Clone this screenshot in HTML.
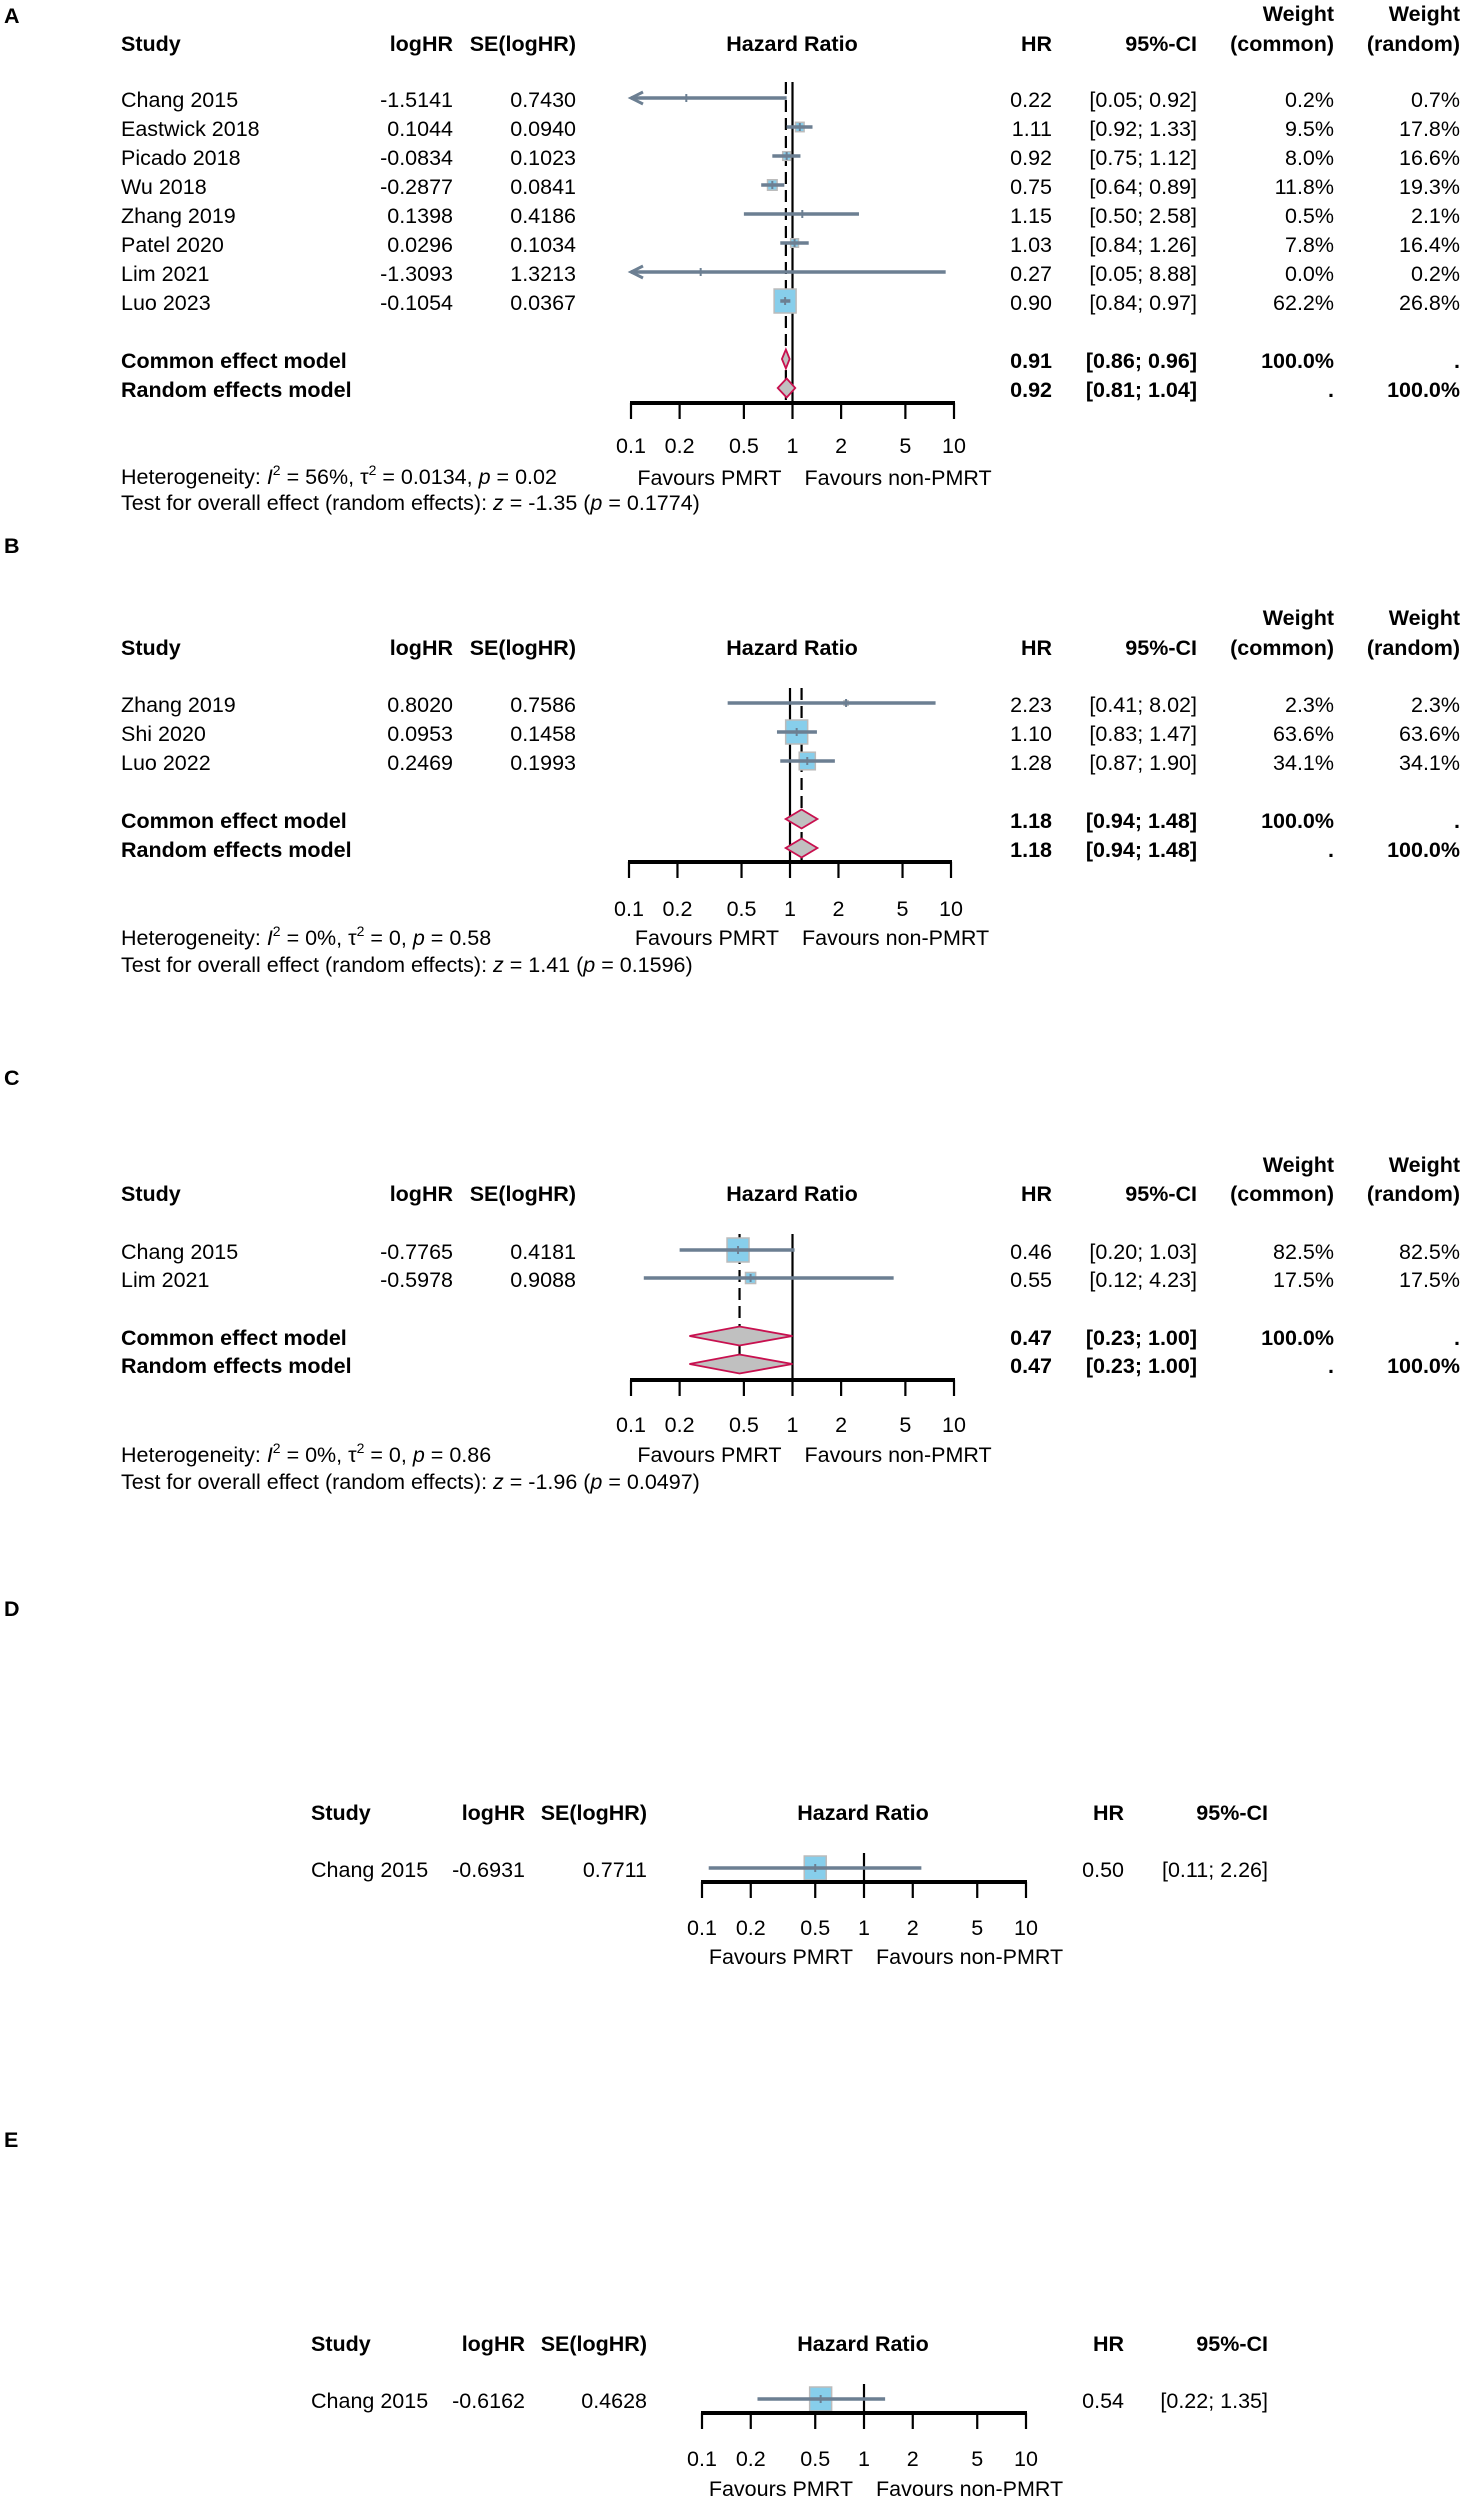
<!DOCTYPE html>
<html><head><meta charset="utf-8"><title>Forest plots</title>
<style>
html,body{margin:0;padding:0;background:#fff;}
svg{display:block;font-family:"Liberation Sans",Arial,sans-serif;}
text{font-size:21.5px;fill:#000;}
.b{font-weight:bold;}
</style></head>
<body>
<svg id="chart" xmlns="http://www.w3.org/2000/svg" width="1465" height="2500" viewBox="0 0 1465 2500">
<rect x="0" y="0" width="1465" height="2500" fill="#fff"/>
</svg>
<script>
// ---------- Panel A data ----------
const studiesA = ["Chang 2015","Eastwick 2018","Picado 2018","Wu 2018","Zhang 2019","Patel 2020","Lim 2021","Luo 2023"];
const logHRA = ["-1.5141","0.1044","-0.0834","-0.2877","0.1398","0.0296","-1.3093","-0.1054"];
const seA = ["0.7430","0.0940","0.1023","0.0841","0.4186","0.1034","1.3213","0.0367"];
const hrA = [0.22,1.11,0.92,0.75,1.15,1.03,0.27,0.90];
const loA = [0.05,0.92,0.75,0.64,0.50,0.84,0.05,0.84];
const hiA = [0.92,1.33,1.12,0.89,2.58,1.26,8.88,0.97];
const wcA = [0.2,9.5,8.0,11.8,0.5,7.8,0.0,62.2];
const wrA = [0.7,17.8,16.6,19.3,2.1,16.4,0.2,26.8];
const modelHRA = [0.91,0.92];
const modelLoA = [0.86,0.81];
const modelHiA = [0.96,1.04];
const hetA = ["56%","0.0134","0.02"];
const testA = ["-1.35","0.1774"];
// ---------- Panel B data ----------
const studiesB = ["Zhang 2019","Shi 2020","Luo 2022"];
const logHRB = ["0.8020","0.0953","0.2469"];
const seB = ["0.7586","0.1458","0.1993"];
const hrB = [2.23,1.10,1.28];
const loB = [0.41,0.83,0.87];
const hiB = [8.02,1.47,1.90];
const wcB = [2.3,63.6,34.1];
const wrB = [2.3,63.6,34.1];
const modelHRB = [1.18,1.18];
const modelLoB = [0.94,0.94];
const modelHiB = [1.48,1.48];
const hetB = ["0%","0","0.58"];
const testB = ["1.41","0.1596"];
// ---------- Panel C data ----------
const studiesC = ["Chang 2015","Lim 2021"];
const logHRC = ["-0.7765","-0.5978"];
const seC = ["0.4181","0.9088"];
const hrC = [0.46,0.55];
const loC = [0.20,0.12];
const hiC = [1.03,4.23];
const wcC = [82.5,17.5];
const wrC = [82.5,17.5];
const modelHRC = [0.47,0.47];
const modelLoC = [0.23,0.23];
const modelHiC = [1.00,1.00];
const hetC = ["0%","0","0.86"];
const testC = ["-1.96","0.0497"];
// ---------- Panel D data ----------
const studiesD = ["Chang 2015"];
const logHRD = ["-0.6931"];
const seD = ["0.7711"];
const hrD = [0.50];
const loD = [0.11];
const hiD = [2.26];
const wcD = [100];
// ---------- Panel E data ----------
const studiesE = ["Chang 2015"];
const logHRE = ["-0.6162"];
const seE = ["0.4628"];
const hrE = [0.54];
const loE = [0.22];
const hiE = [1.35];
const wcE = [100];
// ---------- axis ticks ----------
const tickValues = [0.1,0.2,0.5,1,2,5,10];
const tickLabels = ["0.1","0.2","0.5","1","2","5","10"];

const NS = "http://www.w3.org/2000/svg";
const svg = document.getElementById("chart");
const CI_COL = "#6c7f92";

function mk(tag, attrs, parent){
  const e = document.createElementNS(NS, tag);
  for (const k in attrs) e.setAttribute(k, attrs[k]);
  (parent||svg).appendChild(e);
  return e;
}
function txt(parent, x, yc, s, anchor, bold){
  const t = document.createElementNS(NS, "text");
  t.setAttribute("x", x);
  t.setAttribute("y", yc + 7.8);
  t.setAttribute("text-anchor", anchor||"start");
  if (bold) t.setAttribute("class","b");
  t.textContent = s;
  parent.appendChild(t);
  return t;
}
function fmt(v){ return v.toFixed(2); }
function ci(l,h){ return "[" + fmt(l) + "; " + fmt(h) + "]"; }

function drawPanel(P){
  const g = mk("g", {});
  
  
  const xs = v => P.ax0 + (Math.log10(v) + 1) / 2 * (P.ax1 - P.ax0);
  const c = P.cols;
  // panel label
  const lab = txt(g, 4, P.labelY, P.label, "start", true);
  
  
  // headers
  const hg = mk("g", {}, g);
  
  
  txt(hg, c.study, P.headY, "Study", "start", true);
  txt(hg, c.logHR, P.headY, "logHR", "end", true);
  txt(hg, c.se, P.headY, "SE(logHR)", "end", true);
  txt(hg, c.hz, P.headY, "Hazard Ratio", "middle", true);
  txt(hg, c.hr, P.headY, "HR", "end", true);
  txt(hg, c.ci, P.headY, "95%-CI", "end", true);
  if (P.wc){
    txt(hg, c.wc, P.w1Y, "Weight", "end", true);
    txt(hg, c.wc, P.headY, "(common)", "end", true);
    txt(hg, c.wr, P.w1Y, "Weight", "end", true);
    txt(hg, c.wr, P.headY, "(random)", "end", true);
  }
  // reference line at 1
  const ref = mk("line", {x1:xs(1), x2:xs(1), y1:P.refTop, y2:P.axisY, stroke:"#000", "stroke-width":2.2}, g);
  
  
  if (P.mHR){
    const dl = mk("line", {x1:xs(P.mHR[0]), x2:xs(P.mHR[0]), y1:P.refTop, y2:P.axisY, stroke:"#000", "stroke-width":2.2, "stroke-dasharray":"12,6"}, g);
    
    
  }
  const wmax = Math.max.apply(null, P.wsq);
  for (let i=0;i<P.studies.length;i++){
    const y = P.row0 + i*P.step;
    const rg = mk("g", {}, g);
    
    
    txt(rg, c.study, y, P.studies[i]);
    txt(rg, c.logHR, y, P.logHR[i], "end");
    txt(rg, c.se, y, P.se[i], "end");
    txt(rg, c.hr, y, fmt(P.hr[i]), "end");
    txt(rg, c.ci, y, ci(P.lo[i], P.hi[i]), "end");
    if (P.wc){
      txt(rg, c.wc, y, P.wc[i].toFixed(1) + "%", "end");
      txt(rg, c.wr, y, P.wr[i].toFixed(1) + "%", "end");
    }
    const yl = y - 1;
    const sz = Math.sqrt(P.wsq[i] / wmax);
    const sw = 22*sz, sh = 24*sz;
    const cx = xs(P.hr[i]);
    if (sw > 2){
      const sq = mk("rect", {x:cx-sw/2, y:yl-sh/2, width:sw, height:sh, fill:"#87ceeb", stroke:"#bbbbbb", "stroke-width":1.5}, rg);
      
      
    }
    const lo = Math.max(P.lo[i], 0.1), hi = Math.min(P.hi[i], 10);
    const ln = mk("line", {x1:xs(lo), x2:xs(hi), y1:yl, y2:yl, stroke:CI_COL, "stroke-width":3.5}, rg);
    
    
    if (P.lo[i] < 0.1){
      const ax = xs(0.1);
      const ar = mk("polyline", {points:(ax+12)+","+(yl-6)+" "+ax+","+yl+" "+(ax+12)+","+(yl+6), fill:"none", stroke:CI_COL, "stroke-width":3}, rg);
      
      
    }
    const tk = mk("line", {x1:cx, x2:cx, y1:yl-4, y2:yl+4, stroke:CI_COL, "stroke-width":2}, rg);
    
    
  }
  if (P.mHR){
    const names = ["Common effect model","Random effects model"];
    const ys = [P.commonY, P.randomY];
    const wcs = ["100.0%","."], wrs = [".","100.0%"];
    for (let k=0;k<2;k++){
      const y = ys[k];
      const mg = mk("g", {}, g);
      
      
      txt(mg, c.study, y, names[k], "start", true);
      txt(mg, c.hr, y, fmt(P.mHR[k]), "end", true);
      txt(mg, c.ci, y, ci(P.mLo[k], P.mHi[k]), "end", true);
      txt(mg, c.wc, y, wcs[k], "end", true);
      txt(mg, c.wr, y, wrs[k], "end", true);
      const yd = y - 1;
      const a = xs(P.mLo[k]), b = xs(P.mHi[k]), m = xs(P.mHR[k]);
      const dm = mk("polygon", {points:a+","+yd+" "+m+","+(yd-9.5)+" "+b+","+yd+" "+m+","+(yd+9.5), fill:"#c0c0c0", stroke:"#c8104f", "stroke-width":1.8}, mg);
      
      
    }
  }
  // axis
  const ag = mk("g", {}, g);
  
  
  mk("line", {x1:P.ax0-1, x2:P.ax1+1, y1:P.axisY, y2:P.axisY, stroke:"#000", "stroke-width":4}, ag);
  for (let i=0;i<tickValues.length;i++){
    const x = xs(tickValues[i]);
    mk("line", {x1:x, x2:x, y1:P.axisY, y2:P.axisY+16, stroke:"#000", "stroke-width":2.2}, ag);
    const tl = txt(ag, x, P.tickY, tickLabels[i], "middle");
    
    
  }
  const f1 = txt(ag, xs(1)-11, P.favY, "Favours PMRT", "end");
  
  
  const f2 = txt(ag, xs(1)+12, P.favY, "Favours non-PMRT", "start");
  
  
  if (P.het){
    const h = document.createElementNS(NS, "text");
    h.setAttribute("x", c.study); h.setAttribute("y", P.hetY + 7.8);
    
    
    h.innerHTML = 'Heterogeneity: <tspan font-style="italic">I</tspan><tspan dy="-9" font-size="14">2</tspan><tspan dy="9"> = ' + P.het[0] + ', τ</tspan><tspan dy="-9" font-size="14">2</tspan><tspan dy="9"> = ' + P.het[1] + ', </tspan><tspan font-style="italic">p</tspan><tspan> = ' + P.het[2] + '</tspan>';
    g.appendChild(h);
    const t = document.createElementNS(NS, "text");
    t.setAttribute("x", c.study); t.setAttribute("y", P.testY + 7.8);
    
    
    t.innerHTML = 'Test for overall effect (random effects): <tspan font-style="italic">z</tspan> = ' + P.test[0] + ' (<tspan font-style="italic">p</tspan> = ' + P.test[1] + ')';
    g.appendChild(t);
  }
}

const colsABC = {study:121, logHR:453, se:576, hz:792, hr:1052, ci:1197, wc:1334, wr:1460};
const colsDE = {study:311, logHR:525, se:647, hz:863, hr:1124, ci:1268};

drawPanel({name:"panel-a", label:"A", labelY:15, w1Y:13, headY:43, row0:99, step:29, commonY:360, randomY:389,
  axisY:403, tickY:445, favY:477, hetY:476, testY:502, refTop:82, ax0:631, ax1:954, cols:colsABC,
  studies:studiesA, logHR:logHRA, se:seA, hr:hrA, lo:loA, hi:hiA, wc:wcA, wr:wrA, wsq:wcA,
  mHR:modelHRA, mLo:modelLoA, mHi:modelHiA, het:hetA, test:testA});
drawPanel({name:"panel-b", label:"B", labelY:545, w1Y:617, headY:647, row0:704, step:29, commonY:820, randomY:849,
  axisY:862, tickY:908, favY:937, hetY:937, testY:964, refTop:688, ax0:629, ax1:951, cols:colsABC,
  studies:studiesB, logHR:logHRB, se:seB, hr:hrB, lo:loB, hi:hiB, wc:wcB, wr:wrB, wsq:wcB,
  mHR:modelHRB, mLo:modelLoB, mHi:modelHiB, het:hetB, test:testB});
drawPanel({name:"panel-c", label:"C", labelY:1077, w1Y:1164, headY:1193, row0:1251, step:28, commonY:1337, randomY:1365,
  axisY:1380, tickY:1424, favY:1454, hetY:1454, testY:1481, refTop:1234, ax0:631, ax1:954, cols:colsABC,
  studies:studiesC, logHR:logHRC, se:seC, hr:hrC, lo:loC, hi:hiC, wc:wcC, wr:wrC, wsq:wcC,
  mHR:modelHRC, mLo:modelLoC, mHi:modelHiC, het:hetC, test:testC});
drawPanel({name:"panel-d", label:"D", labelY:1608, headY:1812, row0:1869, step:29,
  axisY:1882, tickY:1927, favY:1956, refTop:1853, ax0:702, ax1:1026, cols:colsDE,
  studies:studiesD, logHR:logHRD, se:seD, hr:hrD, lo:loD, hi:hiD, wsq:wcD});
drawPanel({name:"panel-e", label:"E", labelY:2139, headY:2343, row0:2400, step:29,
  axisY:2413, tickY:2458, favY:2488, refTop:2384, ax0:702, ax1:1026, cols:colsDE,
  studies:studiesE, logHR:logHRE, se:seE, hr:hrE, lo:loE, hi:hiE, wsq:wcE});
</script>
</body></html>
